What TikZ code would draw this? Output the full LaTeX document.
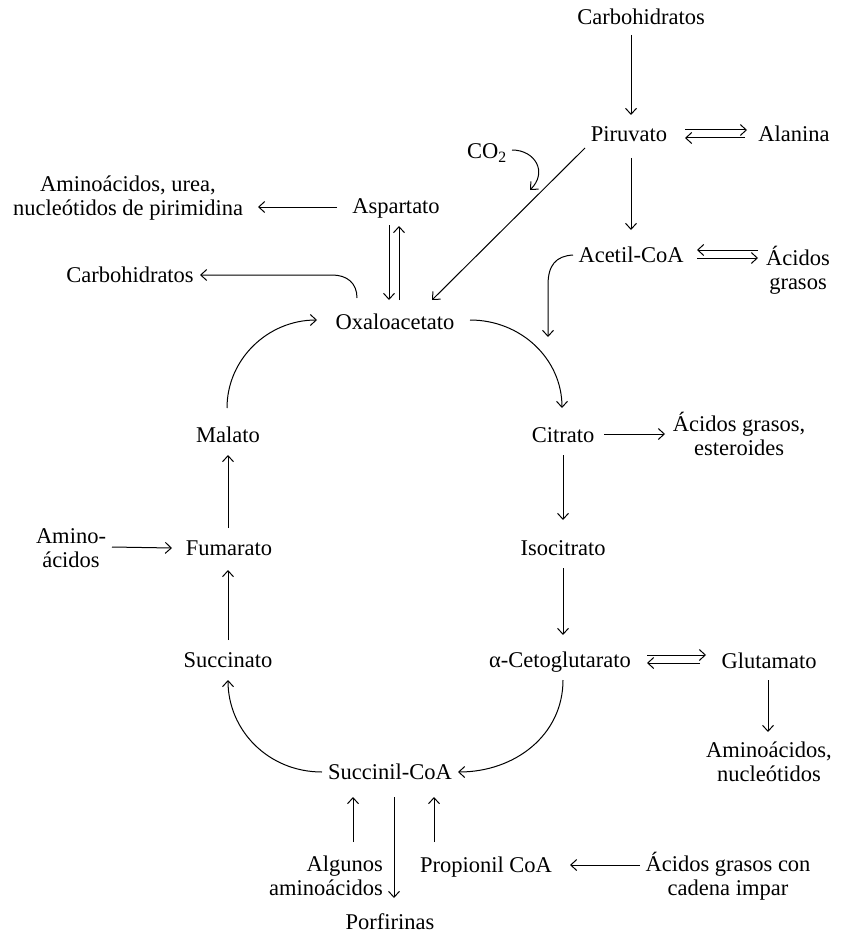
\documentclass[tikz,border=0pt]{standalone}
\usepackage{fontspec}
\setmainfont{Liberation Serif}
\usetikzlibrary{arrows.meta,calc}
\begin{document}
\begin{tikzpicture}[x=1pt,y=-1pt,
  font=\fontsize{22.5}{24}\selectfont,
  lbl/.style={inner sep=0pt,text height=14pt,text depth=0pt},
  mlbl/.style={inner sep=0pt,align=center},
  arr/.style={line width=1pt,-{Straight Barb[length=6pt,width=11pt,line width=1pt]}},
  ]
\useasboundingbox (0,0) rectangle (843,936);
% nodes
\node[lbl] (carbT) at (641,18) {Carbohidratos};
\node[lbl] (pir) at (629,135) {Piruvato};
\node[lbl] (ala) at (794,135) {Alanina};
\node[lbl] (co2) at (487,152) {CO\textsubscript{2}};
\node[lbl] (asp) at (396,206) {Aspartato};
\node[mlbl] (amU) at (128,198) {Aminoácidos, urea,\\nucleótidos de pirimidina};
\node[lbl] (acet) at (631,255) {Acetil-CoA};
\node[mlbl] (acg) at (798,270) {Ácidos\\grasos};
\node[lbl] (carbL) at (130,275) {Carbohidratos};
\node[lbl] (oxa) at (395,322) {Oxaloacetato};
\node[lbl] (mal) at (228,435) {Malato};
\node[lbl] (cit) at (563,435) {Citrato};
\node[mlbl] (acgE) at (739,434) {Ácidos grasos,\\esteroides};
\node[lbl] (iso) at (563,548) {Isocitrato};
\node[lbl] (fum) at (229,548) {Fumarato};
\node[mlbl] (amA) at (71,548) {Amino-\\ácidos};
\node[lbl] (suc) at (228,660) {Succinato};
\node[lbl] (akg) at (560,660) {α-Cetoglutarato};
\node[lbl] (glu) at (769,661) {Glutamato};
\node[mlbl] (amN) at (769,762) {Aminoácidos,\\nucleótidos};
\node[lbl] (sca) at (390,772) {Succinil-CoA};
\node[mlbl,anchor=east,align=right] (alg) at (383,876) {Algunos\\aminoácidos};
\node[lbl] (prop) at (486,865) {Propionil CoA};
\node[mlbl] (acgI) at (728,876) {Ácidos grasos con\\cadena impar};
\node[lbl] (porf) at (390,922) {Porfirinas};
% connectors
\draw[arr] ($(carbT)+(-10,17)$) -- ($(pir)+(2,-20)$);
\draw[arr] ($(pir)+(2,23)$) -- ($(acet)+(0,-25)$);
\draw[arr] ($(pir)+(56,-5)$) -- ($(ala)+(-47,-5)$);
\draw[arr] ($(ala)+(-49,3)$) -- ($(pir)+(56,3)$);
\draw[arr] ($(pir)+(-44,13)$) -- ($(oxa)+(37,-22)$);
\draw[arr] ($(co2)+(25,-2)$) .. controls ($(co2)+(48,-2)$) and ($(co2)+(61,20)$) .. ($(co2)+(43,38)$);
\draw[arr] ($(asp)+(-59,1)$) -- ($(amU)+(130,9)$);
\draw[arr] ($(asp)+(-7,19)$) -- ($(oxa)+(-6,-22)$);
\draw[arr] ($(oxa)+(4,-22)$) -- ($(asp)+(3,20)$);
\draw[arr] ($(oxa)+(-38,-24)$) .. controls ($(oxa)+(-38,-39)$) and ($(oxa)+(-48,-47)$) .. ($(oxa)+(-63,-47)$) -- ($(carbL)+(70,0)$);
\draw[arr] ($(acg)+(-40,-20)$) -- ($(acet)+(66,-5)$);
\draw[arr] ($(acet)+(66,3)$) -- ($(acg)+(-40,-12)$);
\draw[arr] ($(acet)+(-58,0)$) .. controls ($(acet)+(-75,1)$) and ($(acet)+(-83,10)$) .. ($(acet)+(-83,30)$) -- ($(cit)+(-15,-98)$);
\draw[arr] ($(oxa)+(75,-2)$) .. controls ($(oxa)+(126,-2)$) and ($(cit)+(-1,-76)$) .. ($(cit)+(-1,-27)$);
\draw[arr] ($(mal)+(-1,-27)$) .. controls ($(mal)+(-1,-76)$) and ($(oxa)+(-127,-2)$) .. ($(oxa)+(-78,-2)$);
\draw[arr] ($(cit)+(41,-1)$) -- ($(acgE)+(-74,0)$);
\draw[arr] ($(cit)+(0,20)$) -- ($(iso)+(0,-28)$);
\draw[arr] ($(iso)+(0,20)$) -- ($(akg)+(3,-25)$);
\draw[arr] ($(akg)+(87,-5)$) -- ($(glu)+(-63,-6)$);
\draw[arr] ($(glu)+(-69,2)$) -- ($(akg)+(87,3)$);
\draw[arr] ($(glu)+(-1,19)$) -- ($(amN)+(-1,-30)$);
\draw[arr] ($(akg)+(3,20)$) .. controls ($(akg)+(3,75)$) and ($(sca)+(125,0)$) .. ($(sca)+(68,0)$);
\draw[arr] ($(sca)+(-68,0)$) .. controls ($(sca)+(-122,0)$) and ($(suc)+(0,70)$) .. ($(suc)+(0,20)$);
\draw[arr] ($(suc)+(0,-20)$) -- ($(fum)+(-1,22)$);
\draw[arr] ($(fum)+(-1,-20)$) -- ($(mal)+(0,20)$);
\draw[arr] ($(amA)+(41,-1)$) -- ($(fum)+(-57,0)$);
\draw[arr] ($(alg.east)+(-30,-34)$) -- ($(sca)+(-37,25)$);
\draw[arr] ($(sca)+(4,25)$) -- ($(porf)+(4,-24)$);
\draw[arr] ($(prop)+(-52,-23)$) -- ($(sca)+(44,25)$);
\draw[arr] ($(acgI)+(-88,-11)$) -- ($(prop)+(84,0)$);
\end{tikzpicture}
\end{document}
